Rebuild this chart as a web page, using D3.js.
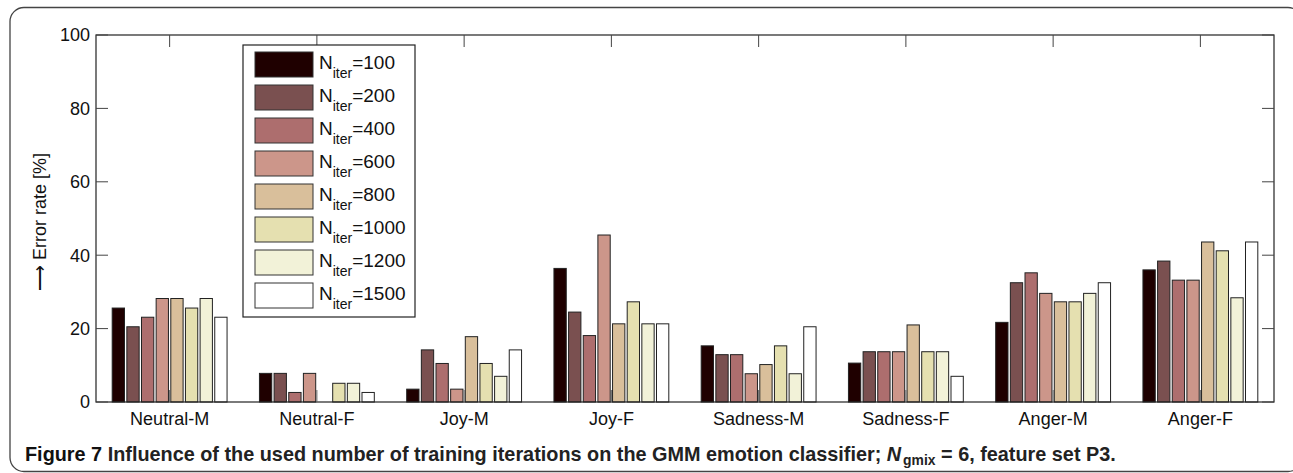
<!DOCTYPE html>
<html>
<head>
<meta charset="utf-8">
<script src="https://cdn.jsdelivr.net/npm/d3@7"></script>
<style>
  body { margin: 0; background: #fff; }
  svg { display: block; font-family: "Liberation Sans", Arial, sans-serif; }
</style>
</head>
<body>
<svg id="chart"></svg>
<script>
const categories = ["Neutral-M", "Neutral-F", "Joy-M", "Joy-F", "Sadness-M", "Sadness-F", "Anger-M", "Anger-F"];
const iterations = ["100", "200", "400", "600", "800", "1000", "1200", "1500"];
const colors = ["#1f0000", "#7a5050", "#ad6e6e", "#cc968a", "#d9bf9b", "#e5e0b0", "#f2f2d8", "#ffffff"];

// error rate [%] per category, one value per iteration count
const iter100  = [25.6, 7.8,  3.5, 36.4, 15.3, 10.6, 21.7, 36.0];
const iter200  = [20.5, 7.8, 14.2, 24.5, 12.9, 13.7, 32.5, 38.4];
const iter400  = [23.1, 2.6, 10.5, 18.1, 12.9, 13.7, 35.2, 33.2];
const iter600  = [28.2, 7.8,  3.5, 45.5,  7.7, 13.7, 29.6, 33.2];
const iter800  = [28.2, 0.0, 17.8, 21.3, 10.2, 21.0, 27.3, 43.6];
const iter1000 = [25.6, 5.1, 10.5, 27.3, 15.3, 13.7, 27.3, 41.2];
const iter1200 = [28.2, 5.1,  7.0, 21.3,  7.7, 13.7, 29.6, 28.4];
const iter1500 = [23.1, 2.6, 14.2, 21.3, 20.5,  7.0, 32.5, 43.6];
const series = [iter100, iter200, iter400, iter600, iter800, iter1000, iter1200, iter1500];

const yTicks = [0, 20, 40, 60, 80, 100];
const caption = "Influence of the used number of training iterations on the GMM emotion classifier; ";

const W = 1293, H = 473;
const plotL = 96, plotR = 1274, plotT = 35, plotB = 402;

const svg = d3.select("#chart").attr("width", W).attr("height", H);

// rounded frame around figure + caption
svg.append("rect")
    .attr("x", 10).attr("y", 7.5)
    .attr("width", 1292).attr("height", 464)
    .attr("rx", 14)
    .attr("fill", "none").attr("stroke", "#444").attr("stroke-width", 1.3);

const x = d3.scaleBand().domain(categories).range([plotL, plotR]).padding(0);
const groupW = x.bandwidth() * 0.78;
const xs = d3.scaleBand().domain(iterations).range([0, groupW]).paddingInner(0.16);
const y = d3.scaleLinear().domain([0, 100]).range([plotB, plotT]);

// bars
iterations.forEach(function (it, j) {
    svg.append("g").selectAll("rect")
        .data(series[j].map((v, i) => ({ cat: categories[i], v: v })).filter(d => d.v > 0))
        .join("rect")
        .attr("x", d => x(d.cat) + (x.bandwidth() - groupW) / 2 + xs(it))
        .attr("y", d => y(d.v))
        .attr("width", xs.bandwidth())
        .attr("height", d => y(0) - y(d.v))
        .attr("fill", colors[j])
        .attr("stroke", "#222")
        .attr("stroke-width", 1);
});

// box axes
svg.append("rect")
    .attr("x", plotL).attr("y", plotT)
    .attr("width", plotR - plotL).attr("height", plotB - plotT)
    .attr("fill", "none").attr("stroke", "#222").attr("stroke-width", 1.2);

const tl = 12;
const ticks = svg.append("g").attr("stroke", "#444").attr("stroke-width", 1);
yTicks.forEach(function (t) {
    ticks.append("line").attr("x1", plotL).attr("x2", plotL + tl).attr("y1", y(t)).attr("y2", y(t));
    ticks.append("line").attr("x1", plotR).attr("x2", plotR - tl).attr("y1", y(t)).attr("y2", y(t));
});
categories.forEach(function (c) {
    const cx = x(c) + x.bandwidth() / 2;
    ticks.append("line").attr("x1", cx).attr("x2", cx).attr("y1", plotT).attr("y2", plotT + tl);
    ticks.append("line").attr("x1", cx).attr("x2", cx).attr("y1", plotB).attr("y2", plotB - tl).attr("stroke", "#666");
});

svg.append("g").selectAll("text")
    .data(yTicks)
    .join("text")
    .attr("x", plotL - 6)
    .attr("y", d => y(d))
    .attr("dy", "0.36em")
    .attr("text-anchor", "end")
    .attr("font-size", 18)
    .attr("fill", "#111")
    .text(d => d);

svg.append("g").selectAll("text")
    .data(categories)
    .join("text")
    .attr("x", d => x(d) + x.bandwidth() / 2)
    .attr("y", 425)
    .attr("text-anchor", "middle")
    .attr("font-size", 18)
    .attr("fill", "#111")
    .text(d => d);

svg.append("text")
    .attr("transform", "translate(46,222) rotate(-90)")
    .attr("text-anchor", "middle")
    .attr("font-size", 18)
    .attr("fill", "#111")
    .text("\u27F6 Error rate [%]");

// legend
const lg = svg.append("g");
lg.append("rect")
    .attr("x", 243).attr("y", 45).attr("width", 172).attr("height", 272)
    .attr("fill", "#fff").attr("stroke", "#222").attr("stroke-width", 1.2);
iterations.forEach(function (it, j) {
    const yy = 52 + j * 33;
    lg.append("rect")
        .attr("x", 255).attr("y", yy).attr("width", 58).attr("height", 25)
        .attr("fill", colors[j]).attr("stroke", "#333").attr("stroke-width", 1);
    const t = lg.append("text").attr("x", 319).attr("y", yy + 17)
        .attr("font-size", 19).attr("fill", "#111");
    t.append("tspan").text("N");
    t.append("tspan").attr("font-size", 14).attr("dy", 8.5).text("iter");
    t.append("tspan").attr("dy", -8.5).text("=" + it);
});

// caption, squeezed horizontally to the width of the original condensed font
const capG = svg.append("g");
const cap = capG.append("text")
    .attr("x", 0).attr("y", 0)
    .attr("font-size", 20).attr("font-weight", "bold")
    .attr("fill", "#222");
cap.append("tspan").attr("fill", "#111").text("Figure 7 ");
cap.append("tspan").text(caption);
cap.append("tspan").attr("font-style", "italic").text("N");
cap.append("tspan").attr("font-size", 14).attr("dx", 2).attr("dy", 4).text("gmix");
cap.append("tspan").attr("dy", -4).text(" = 6, feature set P3.");
const capW = cap.node().getComputedTextLength();
capG.attr("transform", "translate(25,461) scale(" + (1090 / capW) + ",1)");
</script>
</body>
</html>
